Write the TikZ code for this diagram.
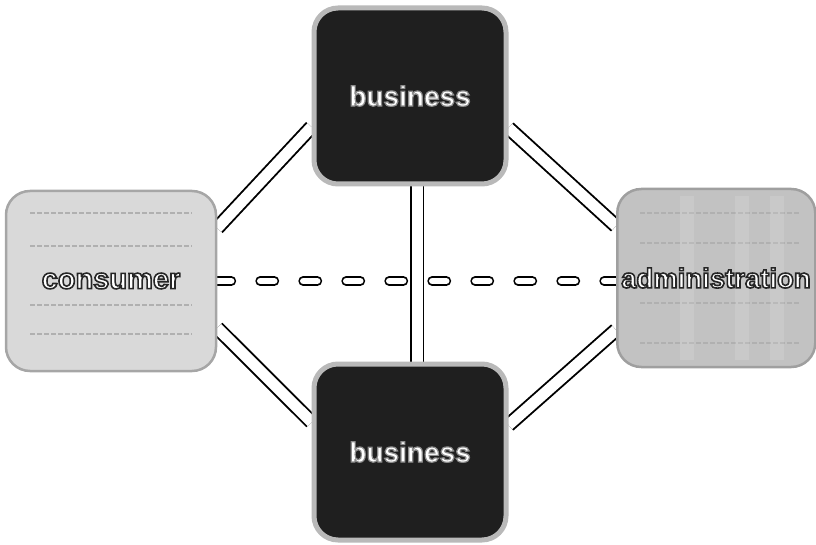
\documentclass[tikz,border=0pt]{standalone}
\usepackage{fontspec}
\setmainfont{Liberation Sans}
\usetikzlibrary{calc}
\pgfdeclarelayer{tubes}
\pgfsetlayers{tubes,main}

% white lettering with a thin dark outline (fill + stroke render mode)
\newcommand\rimtext[3]{\textcolor{white}{%
  \special{pdf:literal direct #1 RG #2 w 2 Tr}#3\special{pdf:literal direct 0 Tr}}}

\begin{document}
\begin{tikzpicture}[x=1pt,y=-1pt,
  box/.style={rectangle, rounded corners=24pt, inner sep=0pt,
    font=\fontsize{28}{30}\selectfont\bfseries},
  bizbox/.style={box, fill=black!88, draw=gray!55, line width=5pt,
    minimum width=192pt, minimum height=176pt},
  lightbox/.style={box, fill=gray!30, draw=gray!70, line width=2.5pt,
    minimum width=210pt, minimum height=180pt},
  adminbox/.style={box, fill=gray!48, draw=gray!75, line width=2.5pt,
    minimum width=198pt, minimum height=178pt},
  tube/.style={draw=black, line width=1.9pt, double=white, double distance=11pt},
  dashtube/.style={draw=black, line width=1.7pt, double=white, double distance=6.5pt,
    line cap=round, dash pattern=on 14pt off 29pt},
  stripe/.style={gray!62, line width=1.2pt, dash pattern=on 5pt off 2pt},
]
\useasboundingbox (0,0) rectangle (816,545);

% boxes
\node[bizbox] (biz1) at (410,96) {\rimtext{0.55 0.55 0.55}{1.2}{business}};
\node[bizbox] (biz2) at (410,452) {\rimtext{0.55 0.55 0.55}{1.2}{business}};
\node[lightbox] (consumer) at (111,281) {};
\node[adminbox, anchor=west] (admin) at (616,278) {};

% stripes inside the grey boxes
\foreach \yy in {213,246,305,334}
  \draw[stripe] (30,\yy) -- (192,\yy);
\foreach \yy in {213,243,303,343}
  \draw[stripe] (640,\yy) -- (800,\yy);
\foreach \xx in {680,735,770}
  \fill[white, opacity=0.12] (\xx,196) rectangle ++(14,164);

% labels of the grey boxes
\node[font=\fontsize{29}{30}\selectfont\bfseries] (consumerlabel) at (consumer.center)
  {\rimtext{0.15 0.15 0.15}{1.6}{consumer}};
\node[font=\fontsize{27.5}{30}\selectfont\bfseries, anchor=west, inner sep=0pt]
  (adminlabel) at ($(admin.west)+(5,0)$) {\rimtext{0.15 0.15 0.15}{1.6}{administration}};

% connecting tubes, kept behind the boxes
\begin{pgfonlayer}{tubes}
  \draw[dashtube] (consumer.east) -- (consumer.east -| admin.west);
  \draw[tube] ([yshift=53pt]consumer.east) -- ([yshift=-31pt]biz1.west);
  \draw[tube] ([yshift=-47pt]consumer.east) -- ([yshift=30pt]biz2.west);
  \draw[tube] ([yshift=-32pt]biz1.east) -- ([yshift=52pt]admin.west);
  \draw[tube] ([yshift=27pt]biz2.east) -- ([yshift=-52pt]admin.west);
  \draw[tube] ([xshift=7pt]biz1.south) -- ([xshift=7pt]biz2.north);
\end{pgfonlayer}
\end{tikzpicture}
\end{document}
